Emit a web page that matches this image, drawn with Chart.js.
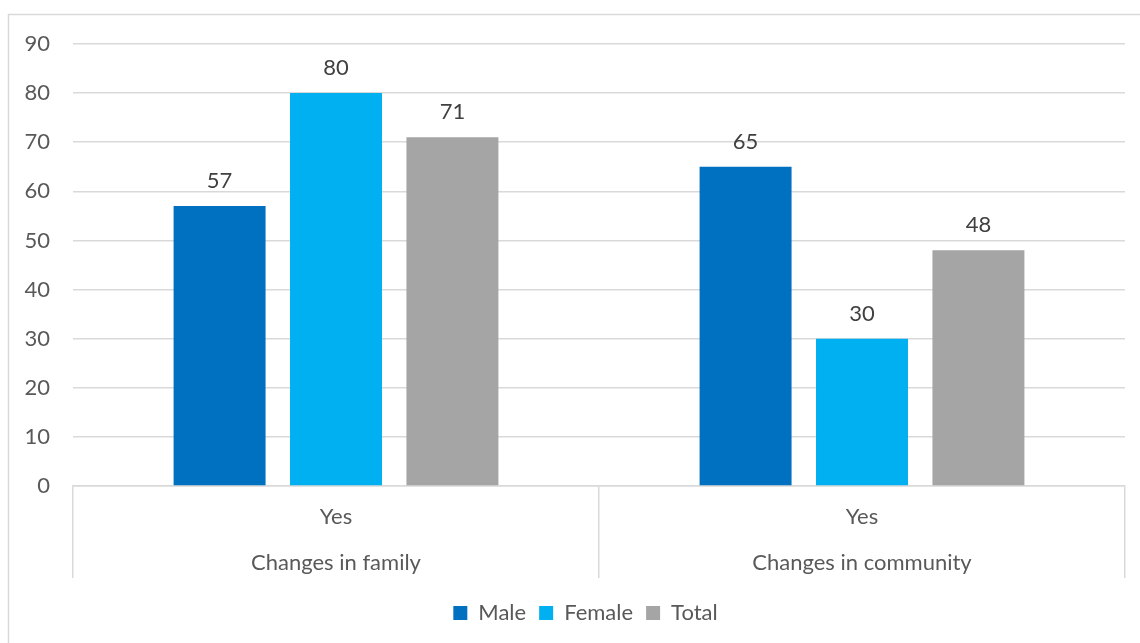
<!DOCTYPE html>
<html>
<head>
<meta charset="utf-8">
<style>
  html, body { margin: 0; padding: 0; background: #fff; }
  #wrap { width: 1140px; height: 643px; position: relative; }
</style>
<script src="https://cdn.jsdelivr.net/npm/chart.js@4.4.1/dist/chart.umd.min.js"></script>
</head>
<body>
<div id="wrap"><canvas id="chart" width="1140" height="643"></canvas></div>
<script>
// Two-level category labels: answer on top, topic underneath
const categories = [['Yes', 'Changes in family'], ['Yes', 'Changes in community']];
const seriesNames = ['Male', 'Female', 'Total'];
const maleValues = [57, 65];
const femaleValues = [80, 30];
const totalValues = [71, 48];
const yTicks = [0, 10, 20, 30, 40, 50, 60, 70, 80, 90];

const FONT = 'Lato, "Open Sans", sans-serif';
const TEXT = '#595959';
const GRID = '#d9d9d9';
const SIZE = 22;

// Thin frame around the whole figure
const framePlugin = {
  id: 'frame',
  beforeDraw(chart) {
    const ctx = chart.ctx;
    ctx.save();
    ctx.strokeStyle = GRID;
    ctx.lineWidth = 1.5;
    ctx.strokeRect(8.5, 14.5, 1200, 700);
    ctx.restore();
  }
};

// Nudge the legend row a little to the right of the plot centre
const legendShift = {
  id: 'legendShift',
  afterLayout(chart) {
    if (chart.legend) chart.legend.left += 46;
  }
};

// Value written above each bar
const valueLabels = {
  id: 'valueLabels',
  afterDatasetsDraw(chart) {
    const ctx = chart.ctx;
    ctx.save();
    ctx.font = SIZE + 'px ' + FONT;
    ctx.fillStyle = '#404040';
    ctx.textAlign = 'center';
    ctx.textBaseline = 'bottom';
    chart.data.datasets.forEach((ds, i) => {
      chart.getDatasetMeta(i).data.forEach((bar, j) => {
        ctx.fillText(String(ds.data[j]), bar.x, bar.y - 14);
      });
    });
    ctx.restore();
  }
};

new Chart(document.getElementById('chart'), {
  type: 'bar',
  data: {
    labels: categories,
    datasets: [
      { label: seriesNames[0], data: maleValues, backgroundColor: '#0070C0' },
      { label: seriesNames[1], data: femaleValues, backgroundColor: '#00B0F0' },
      { label: seriesNames[2], data: totalValues, backgroundColor: '#A5A5A5' }
    ]
  },
  options: {
    responsive: false,
    animation: false,
    layout: { padding: { top: 44, right: 15, left: 0, bottom: 9 } },
    datasets: {
      bar: { categoryPercentage: 0.664, barPercentage: 0.79 }
    },
    scales: {
      x: {
        grid: {
          display: true,
          offset: true,
          drawOnChartArea: false,
          drawTicks: true,
          tickLength: 92,
          color: GRID,
          lineWidth: 1.5
        },
        border: { display: true, color: GRID, width: 1.5 },
        ticks: {
          color: TEXT,
          font: { family: FONT, size: SIZE, lineHeight: '46px' },
          padding: -84,
          maxRotation: 0
        },
        afterFit(scale) { scale.height = 103; }
      },
      y: {
        min: 0,
        max: 90,
        afterBuildTicks(scale) { scale.ticks = yTicks.map(v => ({ value: v })); },
        grid: { color: GRID, lineWidth: 1.5, drawTicks: false },
        border: { display: false },
        ticks: {
          color: TEXT,
          font: { family: FONT, size: SIZE },
          padding: 23
        },
        afterFit(scale) { scale.width = 73; }
      }
    },
    plugins: {
      legend: {
        position: 'bottom',
        labels: {
          color: TEXT,
          font: { family: FONT, size: SIZE },
          boxWidth: 14,
          boxHeight: 14,
          padding: 13
        }
      },
      tooltip: { enabled: false }
    }
  },
  plugins: [framePlugin, legendShift, valueLabels]
});
</script>
</body>
</html>
